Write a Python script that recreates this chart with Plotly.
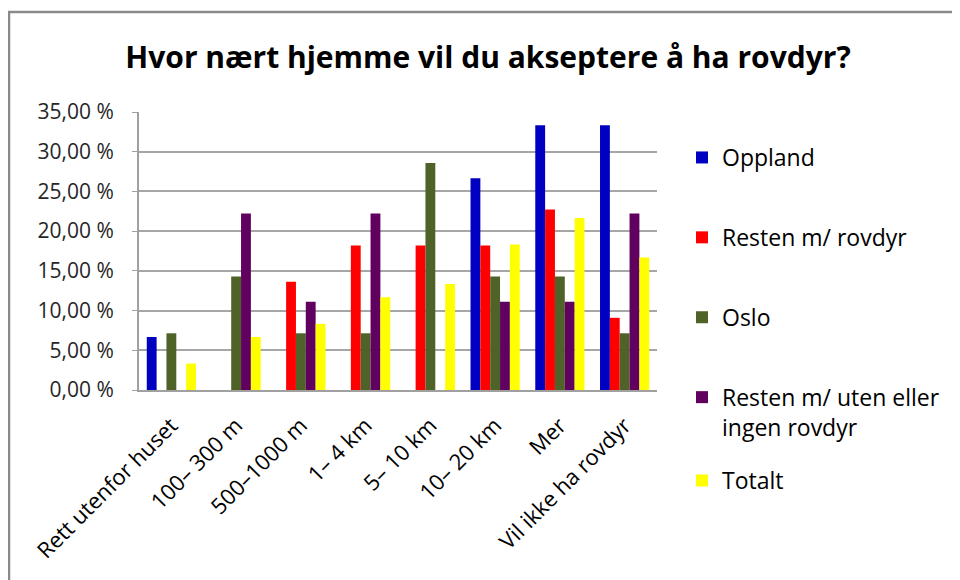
import plotly.graph_objects as go

categories = ["Rett utenfor huset", "100– 300 m", "500–1000 m", "1– 4 km", "5– 10 km",
              "10– 20 km", "Mer", "Vil ikke ha rovdyr"]
series_names = ["Oppland", "Resten m/ rovdyr", "Oslo",
                "Resten m/ uten eller<br>ingen rovdyr", "Totalt"]
oppland = [6.67, 0, 0, 0, 0, 26.67, 33.33, 33.33]
resten_rovdyr = [0, 0, 13.64, 18.18, 18.18, 18.18, 22.73, 9.09]
oslo = [7.14, 14.29, 7.14, 7.14, 28.57, 14.29, 14.29, 7.14]
resten_uten = [0, 22.22, 11.11, 22.22, 0, 11.11, 11.11, 22.22]
totalt = [3.33, 6.67, 8.33, 11.67, 13.33, 18.33, 21.67, 16.67]
colors = ["#0000C0", "#FF0000", "#4F6228", "#60005F", "#FFFF00"]
y_ticks = [0, 5, 10, 15, 20, 25, 30, 35]
y_ticktext = ["0,00 %", "5,00 %", "10,00 %", "15,00 %", "20,00 %", "25,00 %",
              "30,00 %", "35,00 %"]

values = [oppland, resten_rovdyr, oslo, resten_uten, totalt]
legend_refs = ["legend", "legend", "legend", "legend", "legend2"]

fig = go.Figure()
for i, (name, vals, col, lg) in enumerate(zip(series_names, values, colors, legend_refs)):
    fig.add_trace(go.Bar(x=categories, y=vals, name=name, marker_color=col,
                         marker_line_width=0, legendgroup=str(i), legend=lg))

# page body has an 8px margin: convert screen coords to figure coords
OX, OY = 8, 8
W, H = 960, 580
L, R, T, B = 139 - OX, 657 - OX, 112 - OY, 390 - OY
pw, ph = R - L, B - T

def px_x(sx):
    return (sx - OX - L) / pw

def px_y(sy):
    return (B - (sy - OY)) / ph

FONT = "Open Sans, sans-serif"
legend_style = dict(xanchor="left", yanchor="top", valign="top",
                    font=dict(size=23, color="black", family=FONT),
                    itemwidth=30, bgcolor="rgba(0,0,0,0)", maxheight=500)

fig.update_layout(
    width=W, height=H,
    margin=dict(l=L, r=W - R, t=T, b=H - B, autoexpand=False),
    paper_bgcolor="white", plot_bgcolor="white",
    font=dict(family=FONT, color="#262626"),
    title=dict(text="<b>Hvor nært hjemme vil du akseptere å ha rovdyr?</b>",
               x=(488 - OX) / W, xanchor="center", y=1 - (57 - OY) / H, yanchor="middle",
               font=dict(size=30, color="black", family=FONT)),
    barmode="group", bargap=0.24, bargroupgap=0,
    xaxis=dict(tickangle=-45, tickfont=dict(size=22, color="black", family=FONT),
               showline=True, linecolor="#A0A0A0", linewidth=2, ticks="",
               showgrid=False, ticklabelstandoff=12),
    yaxis=dict(range=[0, 35], tickvals=y_ticks, ticktext=y_ticktext,
               tickfont=dict(size=21, color="#262626", family=FONT),
               showgrid=True, gridcolor="#A6A6A6", gridwidth=1.5,
               showline=True, linecolor="#A0A0A0", linewidth=2,
               ticks="outside", ticklen=5, tickcolor="#A0A0A0", zeroline=False,
               ticklabelstandoff=14),
    legend=dict(x=px_x(682), y=px_y(136), tracegroupgap=47, **legend_style),
    legend2=dict(x=px_x(682), y=px_y(459), **legend_style),
    showlegend=True,
)

fig.add_shape(type="rect", xref="paper", yref="paper",
              x0=px_x(9), x1=px_x(990), y0=px_y(620), y1=px_y(12),
              line=dict(color="#8A8A8A", width=2.5), fillcolor="rgba(0,0,0,0)",
              layer="below")

fig.write_html("out.html")
